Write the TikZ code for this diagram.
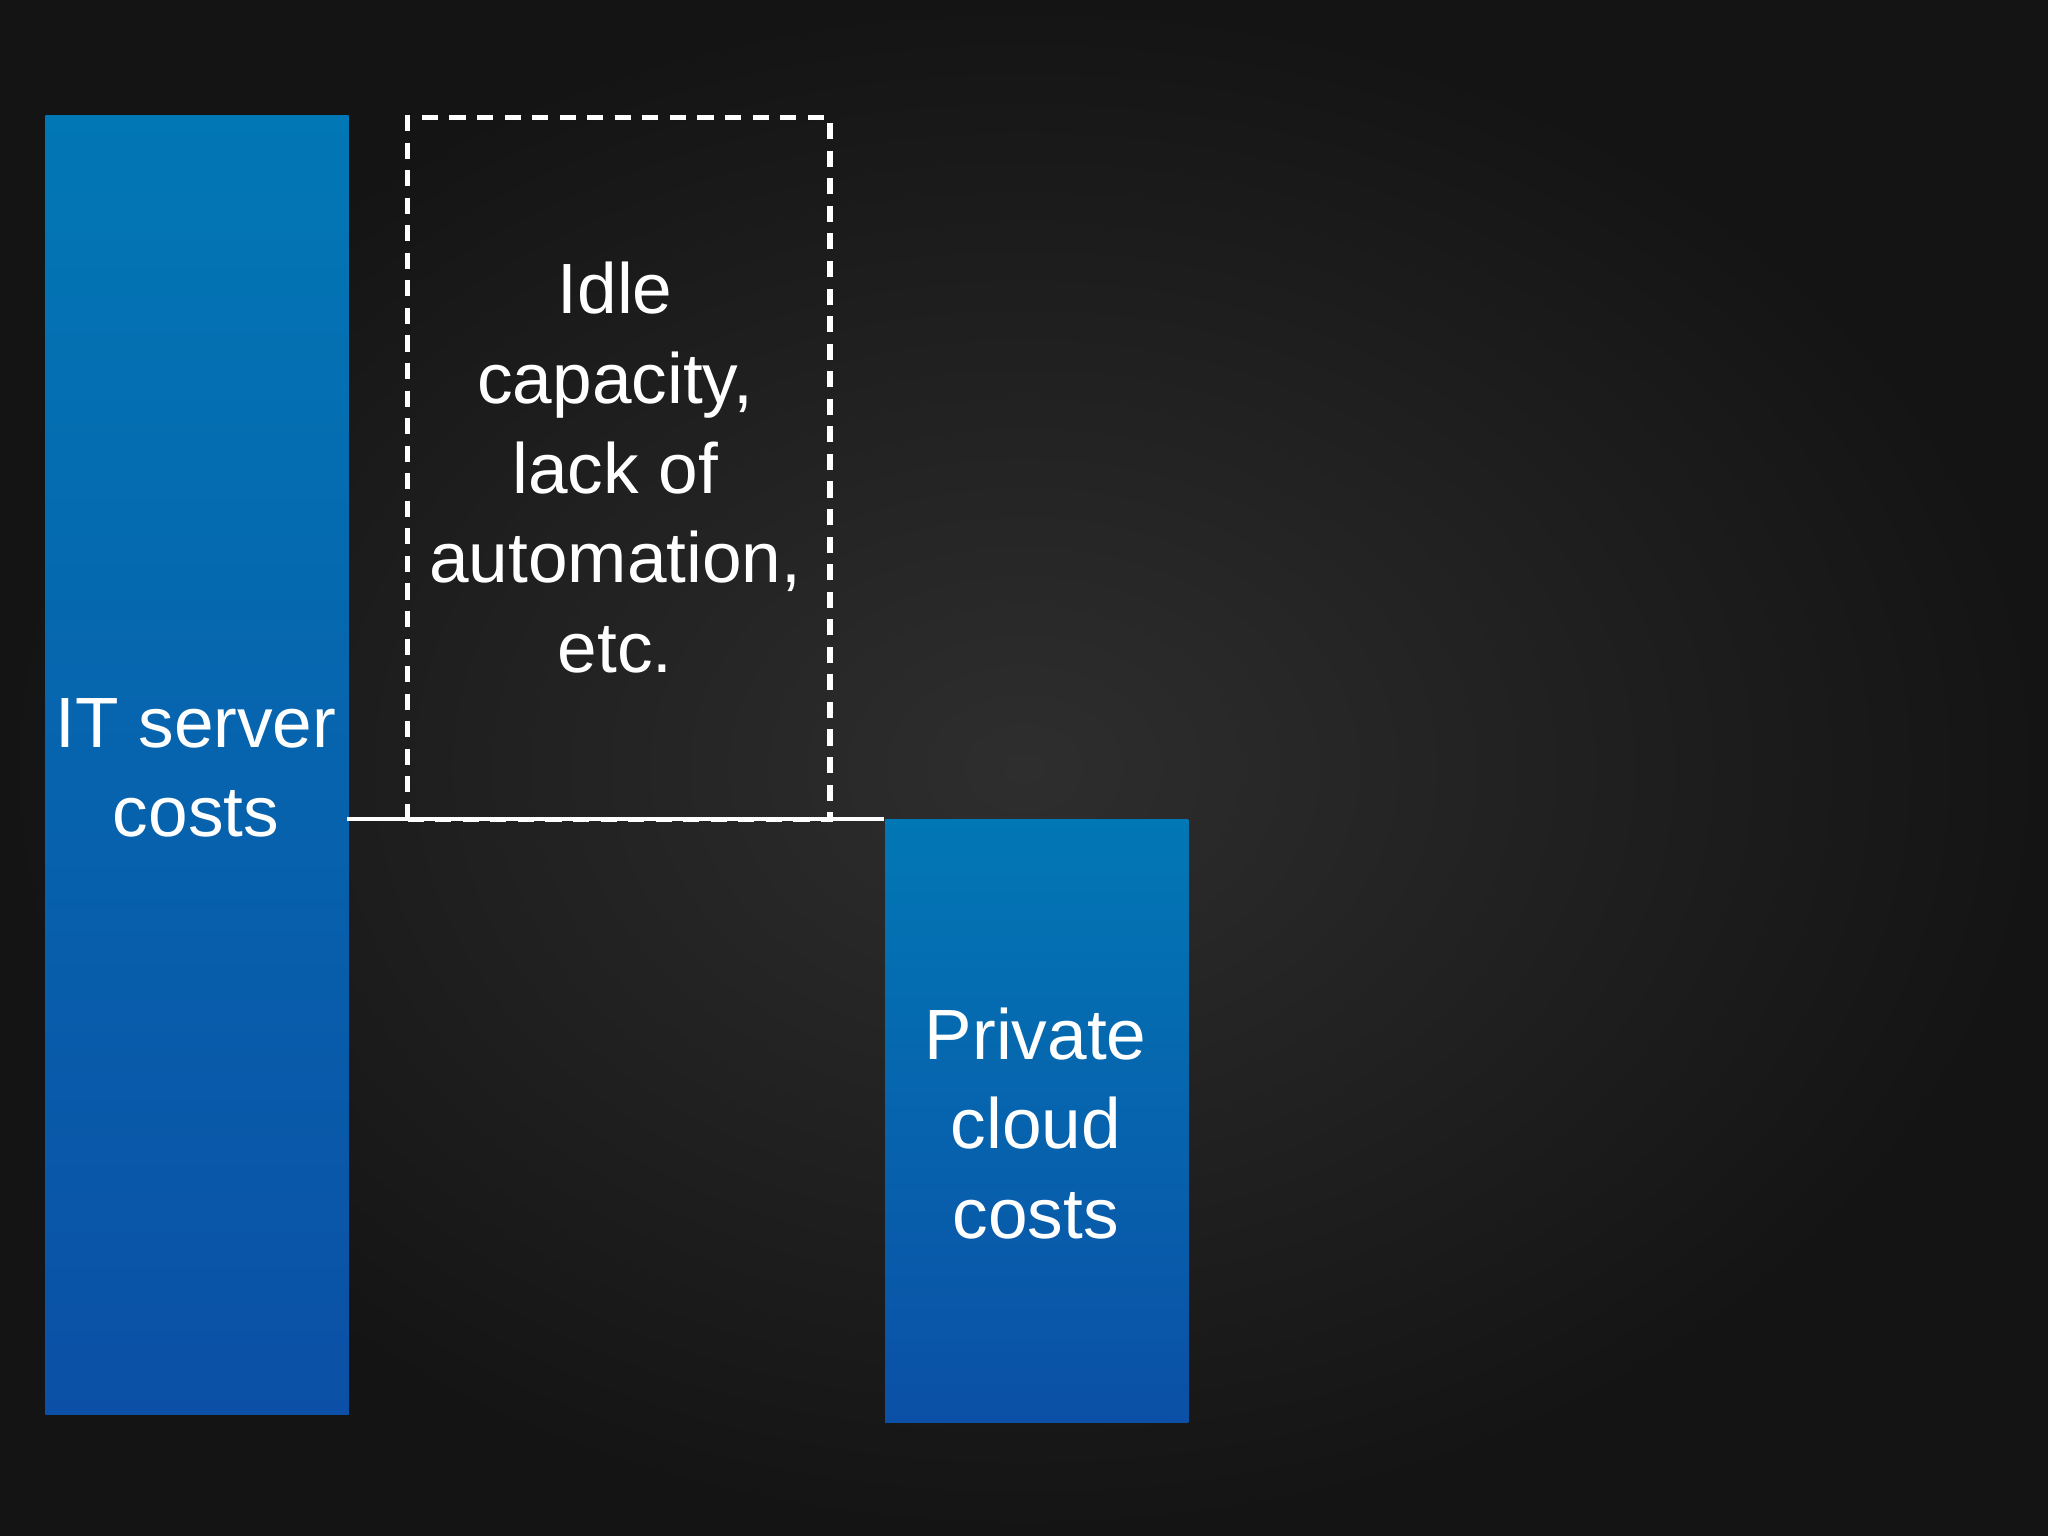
\documentclass[tikz,border=0pt]{standalone}
\usepackage{fontspec}
\setmainfont{Liberation Sans}
\begin{document}
\begin{tikzpicture}[x=0.01cm,y=-0.01cm,
  bar/.style={top color=bartop,bottom color=barbot,draw=none},
  lbl/.style={text=white,font=\fontsize{15.5}{19.5}\selectfont,align=center}]
\definecolor{bartop}{HTML}{0277B5}
\definecolor{barbot}{HTML}{0B50A6}
\definecolor{bgc}{HTML}{2E2E2E}
\definecolor{bge}{HTML}{141414}
\useasboundingbox (0,0) rectangle (1568,1176);
\shade[inner color=bgc,outer color=bge] (0,0) rectangle (1568,1176);
\node[bar,minimum width=2.32cm,minimum height=9.94cm,anchor=north west,inner sep=0] (it) at (34,88) {};
\node[bar,minimum width=2.32cm,minimum height=4.61cm,anchor=north west,inner sep=0] (pc) at (677,627) {};
\node[draw=white,line width=1.2pt,minimum width=3.23cm,minimum height=5.37cm,anchor=north west,inner sep=0,dash pattern=on 3.5pt off 2.5pt] (idle) at (310,88) {};
\node[lbl] at (150,588) {IT server\\costs};
\node[lbl] at (793,860) {Private\\cloud\\costs};
\node[lbl] at (471,358) {Idle\\capacity,\\lack of\\automation,\\etc.};
\coordinate (a) at (266,627);
\draw[white,line width=0.8pt] (a) -- (pc.north west);
\end{tikzpicture}
\end{document}
